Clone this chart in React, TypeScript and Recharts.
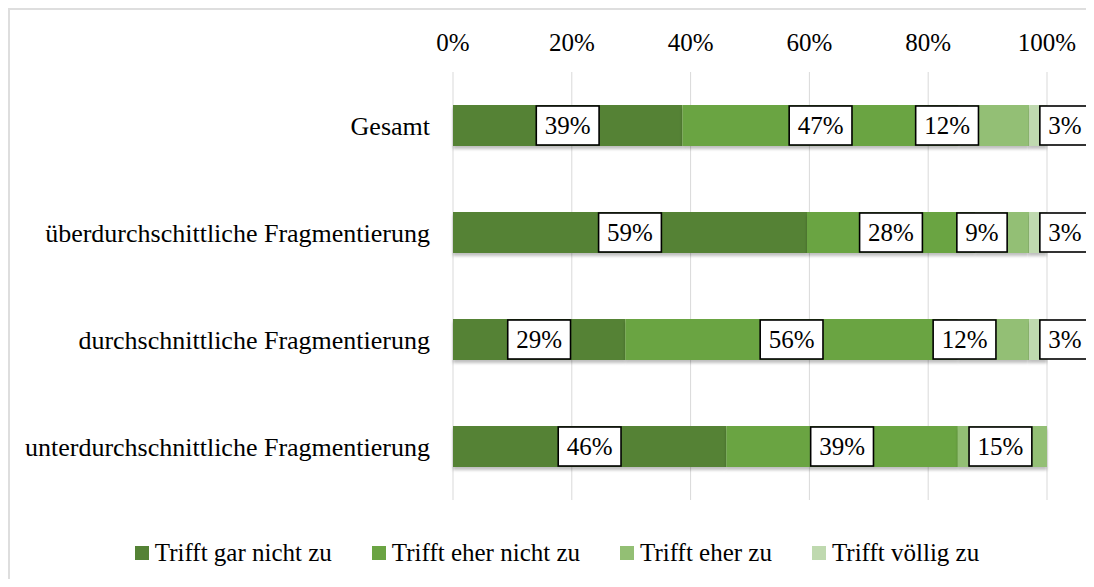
import { BarChart, Bar, XAxis, YAxis, CartesianGrid, Legend, LabelList } from 'recharts'

const categories = [
  'Gesamt',
  'überdurchschittliche Fragmentierung',
  'durchschnittliche Fragmentierung',
  'unterdurchschnittliche Fragmentierung',
]
const garNicht = [39, 59, 29, 46]
const eherNicht = [47, 28, 56, 39]
const eher = [12, 9, 12, 15]
const voellig = [3, 3, 3, 0]
const seriesNames = ['Trifft gar nicht zu', 'Trifft eher nicht zu', 'Trifft eher zu', 'Trifft völlig zu']
const xTicks = [0, 0.2, 0.4, 0.6, 0.8, 1]

const colors = ['#548235', '#6BA443', '#93BF74', '#BFD9AF']
// the "Trifft eher zu" labels were nudged left in the original
const eherShift = [-47, -20, -29, -2]

const font = 'Liberation Serif, serif'

const data = categories.map((name, i) => ({
  name,
  garNicht: garNicht[i],
  eherNicht: eherNicht[i],
  eher: eher[i],
  voellig: voellig[i],
}))

function boxLabel(values: number[], mode: 'center' | 'end', shifts?: number[]) {
  return (props: any) => {
    const { x, y, width, height, index } = props
    const v = values[index]
    if (!v) return null
    const text = `${v}%`
    const w = String(v).length * 12.5 + 20.8 + 17
    const h = 39
    const cx = mode === 'end' ? Number(x) + Number(width) + 18 : Number(x) + Number(width) / 2 + (shifts ? shifts[index] : 0)
    const cy = Number(y) + Number(height) / 2
    return (
      <g>
        <rect x={cx - w / 2} y={cy - h / 2} width={w} height={h} fill="#fff" stroke="#000" strokeWidth={1.6} />
        <text x={cx} y={cy + 8.5} textAnchor="middle" style={{ fontFamily: font, fontSize: 25 }} fill="#000">
          {text}
        </text>
      </g>
    )
  }
}

const renderLegend = () => (
  <div
    style={{
      paddingTop: 38,
      paddingLeft: 10,
      height: 30,
      display: 'flex',
      justifyContent: 'center',
      gap: 40,
      fontSize: 25,
      lineHeight: '30px',
      color: '#000',
    }}
  >
    {seriesNames.map((n, i) => (
      <div key={n} style={{ display: 'flex', alignItems: 'center' }}>
        <span style={{ display: 'inline-block', width: 14, height: 14, background: colors[i], marginRight: 6 }} />
        <span>{n}</span>
      </div>
    ))}
  </div>
)

const css = `html,body{overflow:hidden}
.chart-box, .chart-box text, .chart-box .recharts-legend-wrapper { font-family: 'Liberation Serif', serif !important; }`

export default function App() {
  return (
    <div
      className="chart-box"
      style={{
        width: 1086,
        height: 571,
        boxSizing: 'border-box',
        borderTop: '2px solid #dedede',
        borderLeft: '2px solid #dedede',
        background: '#fff',
      }}
    >
      <style>{css}</style>
      <BarChart
        width={1084}
        height={569}
        data={data}
        layout="vertical"
        stackOffset="expand"
        barSize={41}
        margin={{ top: 0, right: 47, bottom: 11, left: 0 }}
      >
        <defs>
          <filter id="barShadow" x="-5%" y="-20%" width="110%" height="160%">
            <feDropShadow dx="0" dy="3" stdDeviation="1.5" floodColor="#000" floodOpacity="0.25" />
          </filter>
        </defs>
        <CartesianGrid horizontal={false} stroke="#d9d9d9" />
        <XAxis
          type="number"
          orientation="top"
          domain={[0, 1]}
          ticks={xTicks}
          tickFormatter={(v: number) => `${Math.round(v * 100)}%`}
          axisLine={false}
          tickLine={false}
          tickSize={0}
          tickMargin={21}
          height={62}
          tick={{ fontSize: 25, fill: '#000' }}
        />
        <YAxis
          type="category"
          dataKey="name"
          width={443}
          axisLine={false}
          tickLine={false}
          tickSize={0}
          tickMargin={23}
          tick={{ fontSize: 26, fill: '#000' }}
        />
        <Legend content={renderLegend} wrapperStyle={{ left: 0, width: 1084 }} />
        <Bar dataKey="garNicht" name={seriesNames[0]} stackId="a" fill={colors[0]} filter="url(#barShadow)" isAnimationActive={false}>
          <LabelList content={boxLabel(garNicht, 'center')} />
        </Bar>
        <Bar dataKey="eherNicht" name={seriesNames[1]} stackId="a" fill={colors[1]} filter="url(#barShadow)" isAnimationActive={false}>
          <LabelList content={boxLabel(eherNicht, 'center')} />
        </Bar>
        <Bar dataKey="eher" name={seriesNames[2]} stackId="a" fill={colors[2]} filter="url(#barShadow)" isAnimationActive={false}>
          <LabelList content={boxLabel(eher, 'center', eherShift)} />
        </Bar>
        <Bar dataKey="voellig" name={seriesNames[3]} stackId="a" fill={colors[3]} filter="url(#barShadow)" isAnimationActive={false}>
          <LabelList content={boxLabel(voellig, 'end')} />
        </Bar>
      </BarChart>
    </div>
  )
}
